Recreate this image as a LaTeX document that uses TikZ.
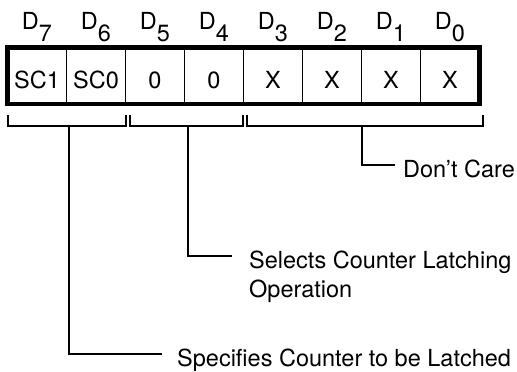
\documentclass[tikz,border=0pt]{standalone}
\usepackage{fontspec}
\setmainfont{TeX Gyre Heros}
\usetikzlibrary{positioning}

\begin{document}
\begin{tikzpicture}[x=1pt,y=-1pt,
  every node/.style={font=\fontsize{23.5}{29}\selectfont, inner sep=0pt},
  note/.style={text height=24pt, text depth=0pt},
  brace/.style={line width=1.8pt}]
\useasboundingbox (0,0) rectangle (517,372);
% register
\draw[line width=4.5pt] (7.5,47.5) rectangle (479.5,104);
\foreach \x in {1,...,7}
  \draw[line width=1.6pt] (7.5+59*\x,47.5) -- (7.5+59*\x,104);
\foreach \b/\t [count=\i from 0] in {7/SC1,6/SC0,5/0,4/0,3/X,2/X,1/X,0/X} {
  \node[anchor=base] (c\b) at (37+59*\i,88) {\t};
  \node[anchor=base] (d\b) at (37+59*\i,30) {D\raisebox{-12pt}{\b}};
}
% field brackets
\draw[brace] (8,115) |- (126,126) -- (126,115);
\draw[brace] (130,115) |- (243,126) -- (243,115);
\draw[brace] (247,115) |- (483,126) -- (483,115);
\coordinate (b1) at (69,126);
\coordinate (b2) at (188,126);
\coordinate (b3) at (362,126);
% notes
\coordinate (e3) at (395,165);
\coordinate (e2) at (232,256);
\coordinate (e1) at (162,354);
\node[note, right=8pt of e3] (dc) {Don't Care};
\node[note, right=17pt of e2] (sel) {Selects Counter Latching};
\node[anchor=base west] (op) at ([yshift=-29pt]sel.base west) {Operation};
\node[note, right=15pt of e1] (spec) {Specifies Counter to be Latched};
\draw[brace] (b3) |- (e3);
\draw[brace] (b2) |- (e2);
\draw[brace] (b1) |- (e1);
\end{tikzpicture}
\end{document}
